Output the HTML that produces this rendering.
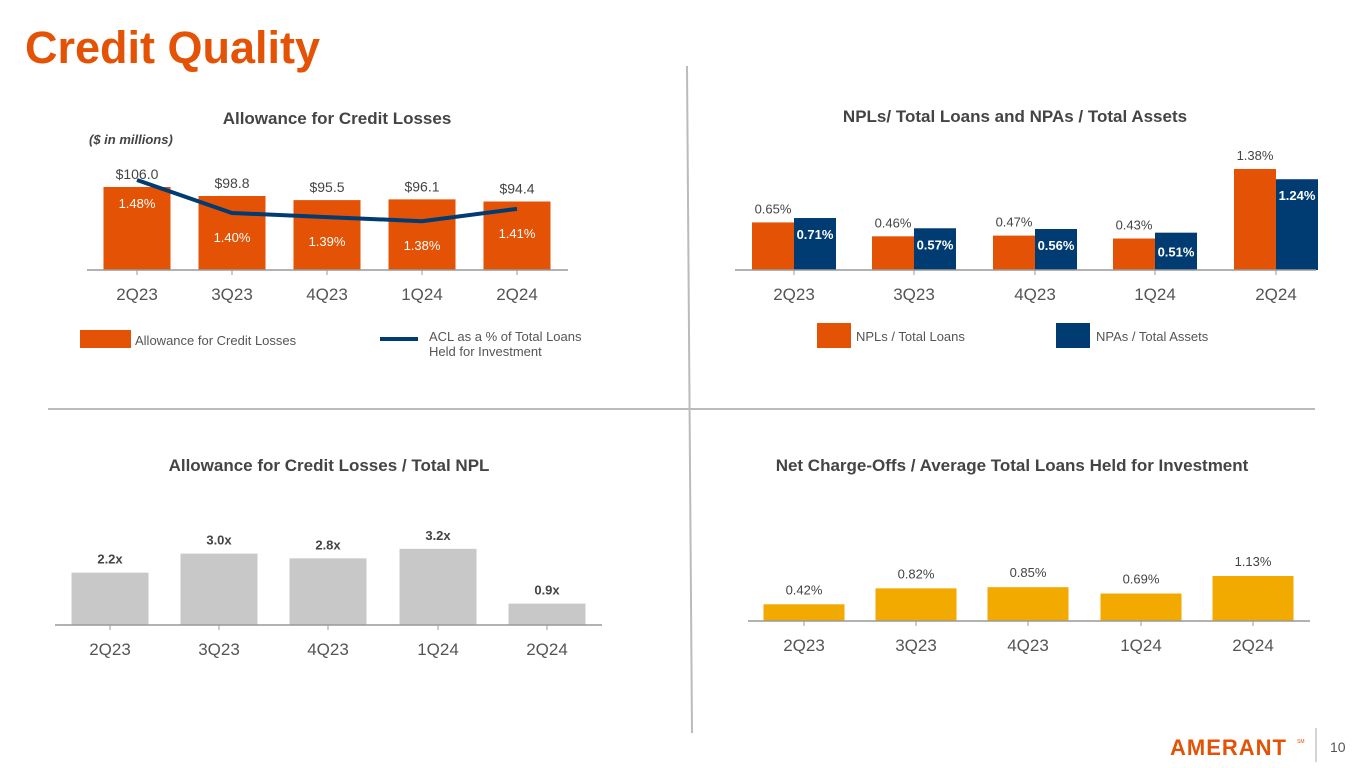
<!DOCTYPE html>
<html><head><meta charset="utf-8"><style>
body{margin:0;width:1365px;height:768px;background:#fff;overflow:hidden;font-family:"Liberation Sans",sans-serif}
svg{position:absolute;left:0;top:0}
</style></head><body>
<svg id="s" width="1365" height="768">
<text x="25" y="63" font-size="45" font-weight="bold" fill="#E35205">Credit Quality</text>
<line x1="687" y1="66" x2="692" y2="733" stroke="#bbb" stroke-width="2"/>
<line x1="48" y1="409" x2="1315" y2="409" stroke="#bbb" stroke-width="2"/>
<text x="1170" y="755" font-size="22" font-weight="bold" fill="#E35205" letter-spacing="1">AMERANT</text>
<text x="1297" y="743" font-size="5" fill="#E35205">SM</text>
<line x1="1316" y1="728" x2="1316" y2="762" stroke="#aaa"/>
<text x="1330" y="752" font-size="14" fill="#555">10</text>
</svg>
<script>
const cats=["2Q23","3Q23","4Q23","1Q24","2Q24"];
const aclVals=[106.0,98.8,95.5,96.1,94.4];
const aclLabels=["$106.0","$98.8","$95.5","$96.1","$94.4"];
const aclPct=[1.48,1.40,1.39,1.38,1.41];
const npls=[0.65,0.46,0.47,0.43,1.38];
const npas=[0.71,0.57,0.56,0.51,1.24];
const coverage=[2.2,3.0,2.8,3.2,0.9];
const nco=[0.42,0.82,0.85,0.69,1.13];
const S=document.getElementById('s');const NS="http://www.w3.org/2000/svg";
function el(t,a,txt){const e=document.createElementNS(NS,t);for(const k in a)e.setAttribute(k,a[k]);if(txt!==undefined)e.textContent=txt;S.appendChild(e);return e;}
function T(x,y,s,size,fill,w,anchor){return el('text',{x:x,y:y,'font-size':size,fill:fill||'#444','font-weight':w||'normal','text-anchor':anchor||'middle'},s);}
function axis(x1,x2,y,centers,name){const a=el('line',{x1:x1,x2:x2,y1:y,y2:y,stroke:'#999','stroke-width':1.5});


centers.forEach((c,i)=>{el('line',{x1:c,x2:c,y1:y,y2:y+5,stroke:'#999'});const t=T(c,y+30,cats[i],17,'#555');

});}
// Chart 1
const c1=[137,232,327,422,517];const b1=270;
const y1=v=>b1-(v-39.6)*1.25;const yp=v=>180+(1.48-v)*412;
T(337,124,"Allowance for Credit Losses",17,'#444','bold');
T(89,144,"($ in millions)",13,'#444','bold','start').setAttribute('font-style','italic');
cats.forEach((c,i)=>{const r=el('rect',{x:c1[i]-33.5,y:y1(aclVals[i]),width:67,height:b1-y1(aclVals[i]),fill:'#E35205'});


T(c1[i],y1(aclVals[i])-8,aclLabels[i],14,'#444');
T(c1[i],i==0?208:yp(aclPct[i])+29,aclPct[i].toFixed(2)+"%",13,'#fff');});
const ln=el('polyline',{points:c1.map((c,i)=>c+','+yp(aclPct[i])).join(' '),fill:'none',stroke:'#003B71','stroke-width':4});


axis(87,568,b1,c1,'acl');
el('rect',{x:80,y:330,width:51,height:18,fill:'#E35205'});
T(135,345,"Allowance for Credit Losses",13,'#555','normal','start');
el('line',{x1:380,x2:418,y1:339,y2:339,stroke:'#003B71','stroke-width':4});
T(429,341,"ACL as a % of Total Loans",13,'#555','normal','start');T(429,356,"Held for Investment",13,'#555','normal','start');
// Chart 2
const c2=[794,914,1035,1155,1276];const b2=270;const y2=v=>b2-v*73.2;
T(1015,122,"NPLs/ Total Loans and NPAs / Total Assets",17,'#444','bold');
cats.forEach((c,i)=>{const r=el('rect',{x:c2[i]-42,y:y2(npls[i]),width:42,height:b2-y2(npls[i]),fill:'#E35205'});


const r2=el('rect',{x:c2[i],y:y2(npas[i]),width:42,height:b2-y2(npas[i]),fill:'#003B71'});


T(c2[i]-21,y2(npls[i])-9,npls[i].toFixed(2)+"%",13,'#444');
T(c2[i]+21,y2(npas[i])+(i==3?24:21),npas[i].toFixed(2)+"%",13,'#fff','bold');});
axis(735,1316,b2,c2,'npl');
el('rect',{x:817,y:323,width:34,height:25,fill:'#E35205'});
T(856,341,"NPLs / Total Loans",13,'#555','normal','start');
el('rect',{x:1056,y:323,width:34,height:25,fill:'#003B71'});
T(1096,341,"NPAs / Total Assets",13,'#555','normal','start');
// Chart 3
const c3=[110,219,328,438,547];const b3=625;const y3=v=>b3-v*23.8;
T(329,471,"Allowance for Credit Losses / Total NPL",17,'#444','bold');
cats.forEach((c,i)=>{const r=el('rect',{x:c3[i]-38.5,y:y3(coverage[i]),width:77,height:b3-y3(coverage[i]),fill:'#C8C8C8'});


T(c3[i],y3(coverage[i])-9,coverage[i].toFixed(1)+"x",13,'#444','bold');});
axis(55,602,b3,c3,'coverage');
// Chart 4
const c4=[804,916,1028,1141,1253];const b4=621;const y4=v=>b4-v*39.8;
T(1012,471,"Net Charge-Offs / Average Total Loans Held for Investment",17,'#444','bold');
cats.forEach((c,i)=>{const r=el('rect',{x:c4[i]-40.5,y:y4(nco[i]),width:81,height:b4-y4(nco[i]),fill:'#F2A900'});


T(c4[i],y4(nco[i])-10,nco[i].toFixed(2)+"%",13,'#444');});
axis(748,1310,b4,c4,'nco');
</script>
</body></html>
